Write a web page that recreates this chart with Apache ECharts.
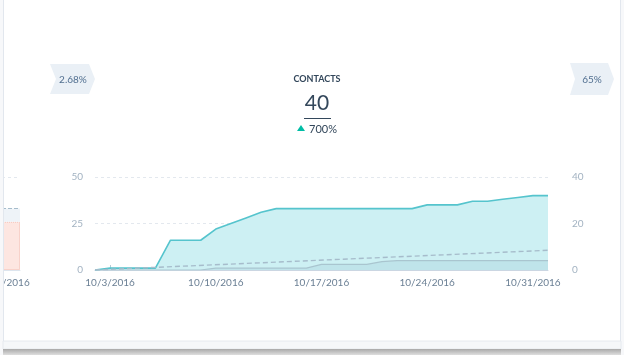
<!DOCTYPE html>
<html><head><meta charset="utf-8">
<script src="https://cdn.jsdelivr.net/npm/echarts@6/dist/echarts.min.js"></script>
<style>html,body{margin:0;padding:0;background:#fff;}#c{width:624px;height:355px;}</style>
</head><body><div id="c"></div>
<script>
// ---- data ----
const dates = ['10/2/2016','10/3/2016','10/4/2016','10/5/2016','10/6/2016','10/7/2016','10/8/2016','10/9/2016','10/10/2016','10/11/2016','10/12/2016','10/13/2016','10/14/2016','10/15/2016','10/16/2016','10/17/2016','10/18/2016','10/19/2016','10/20/2016','10/21/2016','10/22/2016','10/23/2016','10/24/2016','10/25/2016','10/26/2016','10/27/2016','10/28/2016','10/29/2016','10/30/2016','10/31/2016','11/1/2016'];
const contacts = [0,1,1,1,1,16,16,16,22,25,28,31,33,33,33,33,33,33,33,33,33,33,35,35,35,37,37,38,39,40,40];
const previousPeriod = [0,0,0,0,0,0,0,0,1,1,1,1,1,1,1,3,3,3,3,4.5,5,5,5,5,5,5,5,5,5,5,5];
const goalLine = [['10/2/2016',0],['11/1/2016',10.6]];
const shownDates = ['10/3/2016','10/10/2016','10/17/2016','10/24/2016','10/31/2016'];
const leftAxis = {min:0,max:50,interval:25};
const rightAxis = {min:0,max:40,interval:20};
// previous card (partially visible on the left)
const prevCategories = ['10/31/2016'];
const prevActual = [26];
const prevRemainder = [7];
const prevGoal = 33;
// header
const metricName = 'CONTACTS';
const metricValue = '40';
const metricChange = '700%';
const prevTag = '2.68%';
const nextTag = '65%';

const FONT = 'Lato, "Open Sans", sans-serif';
const chart = echarts.init(document.getElementById('c'), null, {renderer:'canvas'});

chart.setOption({
  animation:false,
  backgroundColor:'#ffffff',
  textStyle:{fontFamily:FONT},
  grid:[
    {left:95, right:76, top:177, bottom:85, outerBoundsMode:'none', containLabel:false},
    {left:-16, width:36, top:177, bottom:85, outerBoundsMode:'none', containLabel:false}
  ],
  xAxis:[
    {type:'category', gridIndex:0, data:dates, boundaryGap:false,
     axisLine:{lineStyle:{color:'#cbd6e2'}},
     axisTick:{show:true, inside:true, length:5, lineStyle:{color:'#b7c9d3'}, interval:(i)=>shownDates.indexOf(dates[i])>=0},
     axisLabel:{interval:(i)=>shownDates.indexOf(dates[i])>=0, color:'#6a7f94', fontSize:10, margin:8, fontFamily:FONT},
     splitLine:{show:false}},
    {type:'category', gridIndex:1, data:prevCategories, boundaryGap:true,
     axisLine:{lineStyle:{color:'#dde5ee'}}, axisTick:{show:false},
     axisLabel:{color:'#6a7f94', fontSize:10, margin:8, fontFamily:FONT}}
  ],
  yAxis:[
    {type:'value', gridIndex:0, position:'left', min:leftAxis.min, max:leftAxis.max, interval:leftAxis.interval,
     axisLine:{show:false}, axisTick:{show:false},
     axisLabel:{color:'#a3b3c2', fontSize:10, margin:12, fontFamily:FONT},
     splitLine:{lineStyle:{color:'#e3e8ee', type:[3,3]}}},
    {type:'value', gridIndex:0, position:'right', min:rightAxis.min, max:rightAxis.max, interval:rightAxis.interval,
     axisLine:{show:false}, axisTick:{show:false},
     axisLabel:{color:'#a3b3c2', fontSize:10, margin:24, fontFamily:FONT},
     splitLine:{show:false}},
    {type:'value', gridIndex:1, min:leftAxis.min, max:leftAxis.max, interval:leftAxis.interval,
     axisLine:{show:false}, axisTick:{show:false}, axisLabel:{show:false},
     splitLine:{lineStyle:{color:'#e3e8ee', type:[3,3]}}}
  ],
  series:[
    {type:'line', xAxisIndex:0, yAxisIndex:0, data:contacts, symbol:'none', z:2,
     lineStyle:{color:'#55c4cd', width:1.6},
     areaStyle:{color:'#cdf0f3', opacity:1}},
    {type:'line', xAxisIndex:0, yAxisIndex:0, data:previousPeriod, symbol:'none', z:3,
     lineStyle:{color:'#a9c5cf', width:1.2},
     areaStyle:{color:'#bfe4ea', opacity:1}},
    {type:'line', xAxisIndex:0, yAxisIndex:0, data:goalLine, symbol:'none', z:4,
     lineStyle:{color:'#a6bccb', width:1.4, type:[5,3]}},
    {type:'bar', xAxisIndex:1, yAxisIndex:2, data:prevActual, stack:'p', barWidth:'100%',
     itemStyle:{color:'#fde6e1', borderColor:'#f3b2a5', borderWidth:1, borderType:'dotted'}},
    {type:'bar', xAxisIndex:1, yAxisIndex:2, data:prevRemainder, stack:'p', barWidth:'100%',
     itemStyle:{color:'#eef3f8'},
     markLine:{symbol:'none', silent:true, label:{show:false},
       lineStyle:{color:'#a6bccb', type:[4,2], width:1}, data:[{yAxis:prevGoal}]}}
  ],
  graphic:[
    {type:'rect', shape:{x:0,y:0,width:3,height:355}, style:{fill:'#f7f8fa'}, z:100},
    {type:'line', shape:{x1:3.5,y1:0,x2:3.5,y2:341}, style:{stroke:'#e2e7ee',lineWidth:1}, z:101},
    {type:'rect', shape:{x:621,y:0,width:3,height:355}, style:{fill:'#f7f8fa'}, z:100},
    {type:'line', shape:{x1:620.5,y1:0,x2:620.5,y2:341}, style:{stroke:'#e2e7ee',lineWidth:1}, z:101},
    {type:'rect', shape:{x:3,y:341,width:618,height:8}, style:{fill:'#f5f7f9',stroke:'#e6eaef',lineWidth:1}, z:100},
    {type:'rect', shape:{x:3,y:349,width:618,height:6},
     style:{fill:new echarts.graphic.LinearGradient(0,0,0,1,[{offset:0,color:'#a9a9a9'},{offset:1,color:'#dedede'}])}, z:100},
    {type:'polygon', shape:{points:[[50,64],[89,64],[95,79],[89,94],[50,94],[56,79]]}, style:{fill:'#eaf0f6'}, z:10},
    {type:'text', style:{text:prevTag, x:73, y:80, align:'center', verticalAlign:'middle', fill:'#516f90', font:'10px '+FONT}, z:11},
    {type:'polygon', shape:{points:[[570,63],[608,63],[614,79],[608,95],[570,95],[575,79]]}, style:{fill:'#eaf0f6'}, z:10},
    {type:'text', style:{text:nextTag, x:592, y:80, align:'center', verticalAlign:'middle', fill:'#516f90', font:'10px '+FONT}, z:11},
    {type:'text', style:{text:metricName, x:317, y:79, align:'center', verticalAlign:'middle', fill:'#33475b', font:'bold 9px '+FONT}, z:11},
    {type:'text', style:{text:metricValue, x:317, y:103, align:'center', verticalAlign:'middle', fill:'#33475b', font:'21px '+FONT}, z:11},
    {type:'line', shape:{x1:304,y1:118.5,x2:331,y2:118.5}, style:{stroke:'#33475b',lineWidth:1}, z:11},
    {type:'polygon', shape:{points:[[297,131],[301,125],[305,131]]}, style:{fill:'#00bda5'}, z:11},
    {type:'text', style:{text:metricChange, x:309, y:129, align:'left', verticalAlign:'middle', fill:'#33475b', font:'11px '+FONT}, z:11}
  ]
});
</script></body></html>
